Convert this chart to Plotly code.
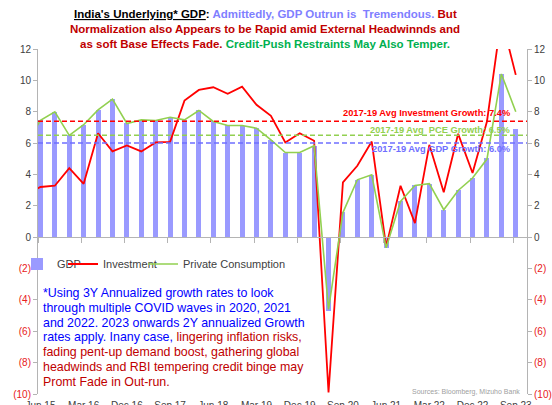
import plotly.graph_objects as go

# ---------------- data ----------------
quarters = ["Mar 15", "Jun 15", "Sep 15", "Dec 15", "Mar 16", "Jun 16", "Sep 16", "Dec 16",
            "Mar 17", "Jun 17", "Sep 17", "Dec 17", "Mar 18", "Jun 18", "Sep 18", "Dec 18",
            "Mar 19", "Jun 19", "Sep 19", "Dec 19", "Mar 20", "Jun 20", "Sep 20", "Dec 20",
            "Mar 21", "Jun 21", "Sep 21", "Dec 21", "Mar 22", "Jun 22", "Sep 22", "Dec 22",
            "Mar 23", "Jun 23", "Sep 23"]
gdp = [None, 7.45, 8.0, 6.5, 7.15, 8.1, 8.8, 7.25, 7.5, 7.45, 7.65, 7.5, 8.1, 7.4, 7.15, 7.1,
       6.95, 6.2, 5.4, 5.4, 5.8, -4.7, 1.58, 3.66, 3.98, -0.69, 2.32, 3.3, 3.4, 1.75, 3.02,
       3.77, 5.04, 10.4, 6.9]
investment = [2.7, 3.2, 3.28, 4.4, 3.4, 6.63, 5.47, 5.85, 5.47, 6.04, 6.08, 8.71, 9.39, 9.56,
              9.14, 9.6, 8.44, 7.74, 6.04, 6.63, 6.15, -9.9, 3.49, 4.55, 6.1, -0.6, 3.28, 0.9,
              5.89, 2.86, 6.59, 4.09, 7.38, 14.0, 10.35]
private_consumption = [5.9, 7.45, 8.0, 6.49, 7.17, 8.12, 8.8, 7.25, 7.48, 7.44, 7.65, 7.48, 8.08,
                       7.38, 7.12, 7.12, 6.95, 6.21, 5.4, 5.4, 5.83, -4.6, 1.57, 3.66, 3.98,
                       -0.68, 2.28, 3.3, 3.41, 1.75, 2.98, 3.77, 4.98, 10.41, 8.0]
x_tick_labels = ["Jun 15", "Mar 16", "Dec 16", "Sep 17", "Jun 18", "Mar 19", "Dec 19",
                 "Sep 20", "Jun 21", "Mar 22", "Dec 22", "Sep 23"]
y_tick_values = [-10, -8, -6, -4, -2, 0, 2, 4, 6, 8, 10, 12]
avg_investment = 7.4
avg_pce = 6.5
avg_gdp = 6.0

# ---------------- layout helpers ----------------
W, H = 552, 405
ML, MR, MT, MB = 38, 25, 49, 11
PW, PH = W - ML - MR, H - MT - MB


def px_x(px):
    return (px - ML) / PW


def px_y(py):
    return (H - MB - py) / PH


xpos = [i - 1 for i in range(len(quarters))]  # Jun 15 -> 0
tickvals_x = [quarters.index(t) - 1 for t in x_tick_labels]
XR = [-0.17, 33.78]
YR = [-10, 12]

RED_NEG = "#E82020"
TXT = "#404040"


def ytext(v):
    if v < 0:
        return '<span style="color:%s">(%d)</span>' % (RED_NEG, -v)
    return str(v)


y_tick_text = [ytext(v) for v in y_tick_values]
FONT = "Liberation Sans, Arial, sans-serif"

fig = go.Figure()
fig.add_trace(go.Bar(x=xpos, y=gdp, name="GDP", width=0.35,
                     marker=dict(color="#9A9AFF", line=dict(width=0)), legend="legend"))
fig.add_trace(go.Scatter(x=xpos, y=investment, name="Investment", mode="lines",
                         line=dict(color="#FF0000", width=1.8), legend="legend2"))
fig.add_trace(go.Scatter(x=xpos, y=private_consumption, name="Private Consumption", mode="lines",
                         line=dict(color="#92D050", width=1.6), legend="legend3"))
# helper traces so the extra axes render
fig.add_trace(go.Scatter(x=[None], y=[None], xaxis="x2", yaxis="y", showlegend=False,
                         hoverinfo="skip"))
fig.add_trace(go.Scatter(x=[None], y=[None], xaxis="x", yaxis="y2", showlegend=False,
                         hoverinfo="skip"))

# average reference lines
for val, col in [(avg_investment, "#FF0000"), (avg_pce, "#92D050"), (avg_gdp, "#6F6FFF")]:
    fig.add_shape(type="line", xref="paper", yref="y", x0=0, x1=1, y0=val, y1=val,
                  line=dict(color=col, width=1.5, dash="5px,3px"))

ann = []
# average labels
for txt, col, py in [("2017-19 Avg Investment Growth: %.1f%%" % avg_investment, "#FF0000", 113),
                     ("2017-19 Avg  PCE Growth: %.1f%%" % avg_pce, "#92D050", 130),
                     ("2017-19 Avg GDP Growth: %.1f%%" % avg_gdp, "#6F6FFF", 149)]:
    ann.append(dict(text="<b>%s</b>" % txt, x=px_x(513), y=px_y(py), xref="paper", yref="paper",
                    xanchor="right", yanchor="middle", showarrow=False,
                    font=dict(size=9.3, color=col, family=FONT)))

# title lines
title_lines = [
    '<span style="text-decoration:underline">India\'s Underlying* GDP</span>: '
    '<span style="color:#7F7FFF">Admittedly, GDP Outrun is  Tremendous.</span> '
    '<span style="color:#C00000">But</span>',
    '<span style="color:#C00000">Normalization also Appears to be Rapid amid External Headwinnds and</span>',
    '<span style="color:#C00000">as soft Base Effects Fade.</span> '
    '<span style="color:#00B050">Credit-Push Restraints May Also Temper.</span>',
]
for txt, py in zip(title_lines, [14, 29, 43.5]):
    ann.append(dict(text="<b>%s</b>" % txt, x=px_x(265), y=px_y(py), xref="paper", yref="paper",
                    xanchor="center", yanchor="middle", showarrow=False,
                    font=dict(size=11.5, color="#000000", family=FONT)))

# note text
BLUE = "#0000FF"
DRED = "#C00000"
note_lines = [
    '<span style="color:%s">*Using 3Y Annualized growth rates to look</span>' % BLUE,
    '<span style="color:%s">through multiple COVID waves in 2020, 2021</span>' % BLUE,
    '<span style="color:%s">and 2022. 2023 onwards 2Y annualized Growth</span>' % BLUE,
    '<span style="color:%s">rates apply. Inany case,</span>'
    '<span style="color:%s"> lingering inflation risks,</span>' % (BLUE, DRED),
    '<span style="color:%s">fading pent-up demand boost, gathering global</span>' % DRED,
    '<span style="color:%s">headwinds and RBI tempering credit binge may</span>' % DRED,
    '<span style="color:%s">Promt Fade in Out-run.</span>' % DRED,
]
for i, txt in enumerate(note_lines):
    ann.append(dict(text=txt, x=px_x(41), y=px_y(293 + 14.8 * i), xref="paper", yref="paper",
                    xanchor="left", yanchor="middle", showarrow=False,
                    font=dict(size=12.4, family=FONT)))

ann.append(dict(text="Sources: Bloomberg, Mizuho Bank", x=px_x(522), y=px_y(392),
                xref="paper", yref="paper", xanchor="right", yanchor="middle",
                showarrow=False, font=dict(size=7, color="#A0A0A0", family=FONT)))

AXC = "#B4B4B4"
leg_common = dict(orientation="h", yanchor="middle", xanchor="left", y=px_y(264),
                  bgcolor="rgba(0,0,0,0)", font=dict(size=11, color=TXT, family=FONT),
                  borderwidth=0)

fig.update_layout(
    width=W, height=H, template="none",
    margin=dict(l=ML, r=MR, t=MT, b=MB, pad=0),
    paper_bgcolor="white", plot_bgcolor="white",
    font=dict(family=FONT, size=10, color=TXT),
    showlegend=True,
    legend=dict(x=px_x(17), **leg_common),
    legend2=dict(x=px_x(63), **leg_common),
    legend3=dict(x=px_x(143), **leg_common),
    bargap=0,
    annotations=ann,
    xaxis=dict(range=XR, tickmode="array", tickvals=tickvals_x, ticktext=x_tick_labels,
               showgrid=False, zeroline=False, showline=False, ticks="outside", ticklen=2,
               tickcolor="rgba(0,0,0,0)", tickfont=dict(size=10, color=TXT),
               automargin=False, fixedrange=True),
    xaxis2=dict(range=XR, overlaying="x", anchor="free", position=(0 - YR[0]) / (YR[1] - YR[0]),
                side="bottom", tickmode="array", tickvals=[v - 0.17 for v in tickvals_x],
                showticklabels=False, showgrid=False, zeroline=False, showline=True,
                linecolor=AXC, linewidth=1, ticks="outside", ticklen=5, tickcolor=AXC,
                automargin=False),
    yaxis=dict(range=YR, tickmode="array", tickvals=y_tick_values, ticktext=y_tick_text,
               showgrid=False, zeroline=False, showline=True, linecolor=AXC, linewidth=1,
               ticks="outside", ticklen=4, tickcolor=AXC, tickfont=dict(size=10, color=TXT),
               automargin=False),
    yaxis2=dict(range=YR, overlaying="y", side="right", tickmode="array",
                tickvals=y_tick_values, ticktext=y_tick_text, showgrid=False, zeroline=False,
                showline=True, linecolor=AXC, linewidth=1, ticks="outside", ticklen=4,
                tickcolor=AXC, tickfont=dict(size=10, color=TXT), automargin=False),
)

fig.write_html("out.html", config={"displayModeBar": False},
               post_script="document.body.style.margin='0';document.body.style.overflow='hidden';")
